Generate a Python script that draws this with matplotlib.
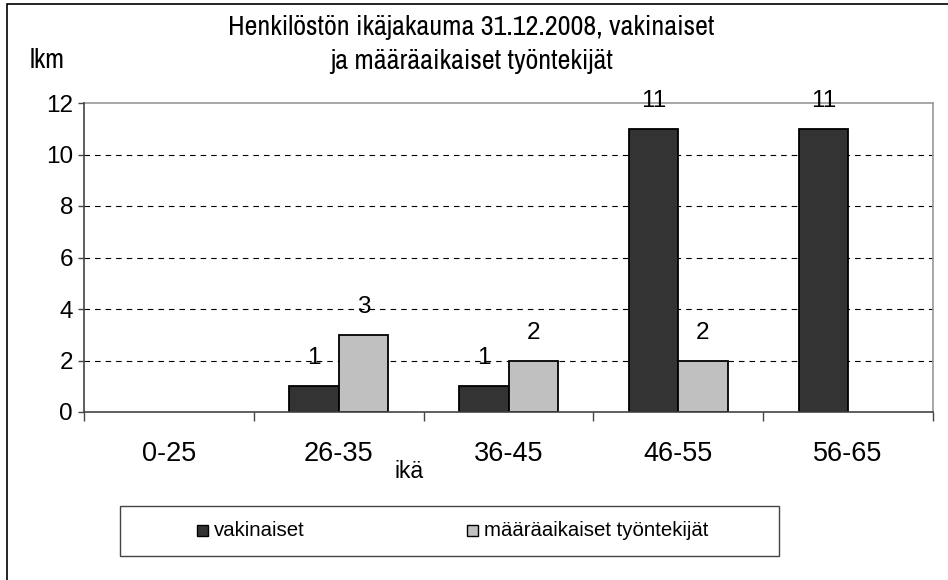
import matplotlib
matplotlib.use("Agg")
import matplotlib.pyplot as plt
from matplotlib import font_manager
from matplotlib.patches import Rectangle
import numpy as np

categories = ["0-25", "26-35", "36-45", "46-55", "56-65"]
vakinaiset = [0, 1, 1, 11, 11]
maaraaikaiset = [0, 3, 2, 2, 0]
series_names = ["vakinaiset", "määräaikaiset työntekijät"]
title_lines = ["Henkilöstön ikäjakauma 31.12.2008, vakinaiset", "ja määräaikaiset työntekijät"]
ylabel = "lkm"
xlabel = "ikä"
yticks = [0, 2, 4, 6, 8, 10, 12]

names = {f.name for f in font_manager.fontManager.ttflist}
narrow = next((n for n in ["Liberation Sans Narrow", "Archivo Narrow", "Roboto Condensed",
                           "Barlow Semi Condensed", "Liberation Sans"] if n in names), "DejaVu Sans")
base = "Liberation Sans"

W, H = 948, 580
fig = plt.figure(figsize=(W / 100, H / 100), dpi=100)
ax = fig.add_axes([84 / W, 1 - 412 / H, (933 - 84) / W, (412 - 103) / H])
renderer = fig.canvas.get_renderer()


def fit(t, width_px):
    w = t.get_window_extent(renderer).width
    t.set_fontsize(t.get_fontsize() * width_px / w)
    return t


x = np.arange(len(categories))
bw = 0.29
dark, light = "#333333", "#C0C0C0"
b1 = ax.bar(x - bw / 2, vakinaiset, bw, color=dark, edgecolor="black",
            linewidth=[1.3 if v else 0 for v in vakinaiset], zorder=3)
b2 = ax.bar(x + bw / 2, maaraaikaiset, bw, color=light, edgecolor="black",
            linewidth=[1.3 if v else 0 for v in maaraaikaiset], zorder=3)

for bars, vals in ((b1, vakinaiset), (b2, maaraaikaiset)):
    for r, v in zip(bars, vals):
        if v:
            ax.annotate(str(v), (r.get_x() + r.get_width() / 2, v), xytext=(0, 20),
                        textcoords="offset points", ha="center", va="center",
                        fontsize=17.5, family=base, zorder=5, annotation_clip=False)

ax.set_xlim(-0.5, 4.5)
ax.set_ylim(0, 12)
ax.set_yticks(yticks)
ax.set_yticklabels([str(t) for t in yticks], fontsize=17.5, family=base)
for t in yticks[1:-1]:
    ax.axhline(t, color="black", linestyle=(0, (5, 4.5)), linewidth=0.8, zorder=1)

ax.set_xticks(x)
ax.set_xticklabels(categories, fontsize=19.5, family=base)
ax.tick_params(axis="x", which="major", length=0, pad=21)
ax.set_xticks(np.arange(-0.5, 5, 1), minor=True)
ax.tick_params(axis="x", which="minor", length=6.5, width=1, color="#444444", direction="out")
ax.tick_params(axis="y", length=4, width=1, color="#444444", direction="out", pad=4)

for s in ("top", "right"):
    ax.spines[s].set_color("#999999")
    ax.spines[s].set_linewidth(1.2)
for s in ("left", "bottom"):
    ax.spines[s].set_color("#444444")
    ax.spines[s].set_linewidth(1.2)
    ax.spines[s].set_zorder(4)

t1 = fig.text(471.5 / W, 1 - 28 / H, title_lines[0], ha="center", va="center", fontsize=20, family=narrow)
fit(t1, 487)
t2 = fig.text(471.5 / W, 1 - 62 / H, title_lines[1], ha="center", va="center",
              fontsize=t1.get_fontsize(), family=narrow)
ty = fig.text(30 / W, 1 - 60 / H, ylabel, ha="left", va="center", fontsize=20, family=narrow)
fit(ty, 35)
tx = fig.text(409 / W, 1 - 471 / H, xlabel, ha="center", va="center", fontsize=16.5, family=base)

# legend
fig.patches.append(Rectangle((120 / W, 1 - 556 / H), (779 - 120) / W, (556 - 506) / H,
                             transform=fig.transFigure, facecolor="white",
                             edgecolor="#444444", linewidth=1.0, zorder=1))
leg_x = [197, 467]
for lx, col, name in zip(leg_x, [dark, light], series_names):
    fig.patches.append(Rectangle((lx / W, 1 - 536 / H), 11 / W, 11 / H, transform=fig.transFigure,
                                 facecolor=col, edgecolor="black", linewidth=1.0, zorder=2))
    fig.text((lx + 17) / W, 1 - 530 / H, name, ha="left", va="center", fontsize=14.7,
             family=base, zorder=3)

# figure border
fig.patches.append(Rectangle((7 / W, -0.01), 1.05, 1 - 4 / H + 0.01, transform=fig.transFigure,
                             facecolor="none", edgecolor="black", linewidth=1.2))

fig.savefig("out.png", dpi=100)
